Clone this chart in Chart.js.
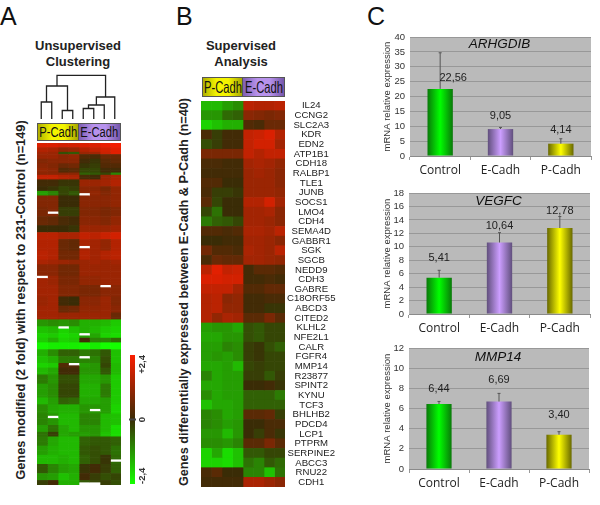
<!DOCTYPE html>
<html>
<head>
<meta charset="utf-8">
<script src="https://cdn.jsdelivr.net/npm/chart.js@4/dist/chart.umd.min.js"></script>
<style>
    html, body { margin: 0; padding: 0; background: #fff; }
    body { position: relative; width: 600px; height: 505px; overflow: hidden; font-family: "Liberation Sans", Arial, sans-serif; color: #111; }
    canvas { position: absolute; }
    #heatA { filter: blur(0.4px); }
    .letter { position: absolute; font-size: 25px; line-height: 25px; }
    .title { position: absolute; font-weight: bold; font-size: 13px; line-height: 16px; text-align: center; transform: translateX(-50%); white-space: nowrap; color: #222; }
    .side { position: absolute; font-weight: bold; white-space: nowrap; color: #222; transform: translate(-50%, -50%) rotate(-90deg); }
    .tag { position: absolute; box-sizing: border-box; border: 1px solid #555; display: flex; justify-content: center; align-items: center; white-space: nowrap; color: #111; overflow: hidden; }
    .tag span { display: inline-block; flex: none; }
    .tag.small span { font-size: 15.5px; transform: scaleX(0.72); }
    .tag.big span { font-size: 16.5px; transform: scaleX(0.68); }
    .tag.p { background: linear-gradient(90deg, #b0b000, #f4f400 35%, #f4f400 65%, #a8a800); }
    .tag.e { background: linear-gradient(90deg, #7e5fb4, #b792ec 35%, #b792ec 65%, #7556aa); }
</style>
</head>
<body>
<div class="letter" style="left:0;top:4px">A</div>
<div class="letter" style="left:176px;top:4px">B</div>
<div class="letter" style="left:367px;top:4px">C</div>

<div class="title" style="left:78px;top:38px">Unsupervised<br>Clustering</div>
<div class="title" style="left:241px;top:38px">Supervised<br>Analysis</div>

<div class="side" id="sideA" style="left:20px;top:300px;font-size:12.8px">Genes modified (2 fold) with respect to 231-Control (n=149)</div>
<div class="side" id="sideB" style="left:184px;top:292px;font-size:12.7px">Genes differentially expressed between E-Cadh &amp; P-Cadh (n=40)</div>

<div class="tag p small" style="left:37px;top:123px;width:42px;height:18px"><span>P-Cadh</span></div>
<div class="tag e small" style="left:78px;top:123px;width:43px;height:18px"><span>E-Cadh</span></div>
<div class="tag p big" style="left:202px;top:77px;width:41px;height:20px"><span>P-Cadh</span></div>
<div class="tag e big" style="left:242px;top:77px;width:43px;height:20px"><span>E-Cadh</span></div>

<canvas id="dendro" style="left:36px;top:69px" width="84" height="50"></canvas>
<canvas id="heatA" style="left:37px;top:143px" width="84" height="342"></canvas>
<canvas id="scaleBar" style="left:125px;top:350px" width="30" height="140"></canvas>
<canvas id="heatB" style="left:201px;top:101px" width="140" height="386"></canvas>
<canvas id="qpcr1" style="left:360px;top:31px" width="240" height="155"></canvas>
<canvas id="qpcr2" style="left:360px;top:188px" width="240" height="156"></canvas>
<canvas id="qpcr3" style="left:360px;top:342px" width="240" height="157"></canvas>

<script>
// --- PANEL C DATA ---
const groups = ['Control', 'E-Cadh', 'P-Cadh'];
const arhgdibValues = [22.56, 9.05, 4.14];
const arhgdibErrorTops = [34.7, 9.6, 5.8];
const arhgdibTicks = [0, 5, 10, 15, 20, 25, 30, 35, 40];
const vegfcValues = [5.41, 10.64, 12.78];
const vegfcErrorTops = [6.5, 12.1, 14.5];
const vegfcTicks = [0, 2, 4, 6, 8, 10, 12, 14, 16, 18];
const mmp14Values = [6.44, 6.69, 3.40];
const mmp14ErrorTops = [6.7, 7.5, 3.7];
const mmp14Ticks = [0, 2, 4, 6, 8, 10, 12];

// --- DENDROGRAM DATA (leaves are 0-7, each merge makes node 8, 9, ...) ---
const mergeLeft = [0, 2, 8, 4, 11, 12, 10];
const mergeRight = [1, 3, 9, 5, 6, 7, 13];
const mergeHeight = [17, 8.5, 33, 10.5, 14, 22, 43.7];

// --- PANEL A DATA: bands of similar rows, 149 rows in total ---
const heatABandSizes = [2, 2, 1, 2, 2, 2, 2, 1, 2, 3, 2, 2, 5, 4, 4, 3, 3, 5, 4, 2, 5, 4, 5, 4, 3, 3, 3, 3, 2, 2, 3, 3, 3, 2, 3, 4, 6, 3, 4, 5, 3, 2, 4, 4, 4, 4, 3, 2];
const heatABands = [
    [2, 2, 1.9, 1.9, 2, 2, 2.2, 2.3],
    [1.5, 1.4, 1.1, 1.2, 1.5, 1.7, 1.9, 2.1],
    [1.3, 1.2, -.4, -.5, 1.2, 1.3, 1.8, 2.1],
    [1.2, 1.2, 1, 1.1, .3, .2, .6, .6],
    [.9, 1, 1, 1, .1, -.1, .4, .5],
    [1, .9, .6, .7, -.1, -.2, .3, .3],
    [1.1, 1, .3, .4, -.3, -.3, .1, .1],
    [1, 1, 1, 1, -.6, -.5, -.3, -1],
    [1.7, 1.7, 1.5, 1.4, .2, .1, 1.2, 1.4],
    [.1, .1, -.1, -.1, 1.2, 1.2, 1.3, 1.5],
    [0, -.1, -.3, -.2, 1, 1, .8, 1.1],
    [-1.3, -1, -.3, -.5, 1, 1.1, .9, 1.1],
    [.9, .9, 0, 0, 1, 1, 1, 1.1],
    [.8, .9, -.2, -.2, .9, .9, .8, .9],
    [.6, .5, .2, .1, 1, 1, .9, 1.1],
    [0, 0, 0, -.1, 1.2, 1.2, 1.2, 1.3],
    [1.6, 1.6, 1.4, 1.4, 1.7, 1.6, 1.8, 1.9],
    [1.5, 1.5, .6, .5, 1.4, 1.3, 1.1, 1.5],
    [1.6, 1.5, .7, .7, 1.5, 1.3, 1.5, 1.6],
    [1.4, 1.3, 1.2, 1.1, 1.2, 1.3, 1.2, 1.3],
    [1, 1, .7, .7, 1.2, 1.2, 1.2, 1.2],
    [1.3, 1.2, .8, .8, 1.1, 1.1, 1.2, 1.2],
    [1.3, 1.3, .9, .9, .8, .8, 1, 1],
    [1.2, 1.3, .1, 0, 1, 1, 1.2, .9],
    [1.3, 1.3, .6, .7, 1.1, 1.1, 1.2, 1],
    [1.3, 1.3, 1.2, 1.2, 1.2, 1.2, 1.2, .6],
    [-1.2, -1.1, -1.2, -1.1, -1.5, -1.5, -1.6, -1.8],
    [-1.7, -1.6, -1.9, -1.7, -1.5, -1.6, -1.8, -1.9],
    [-1.9, -1.8, -2, -1.9, -1.3, -1.4, -1.9, -2],
    [-1.8, -1.5, -1.9, -1.8, .1, -1, -1, -.7],
    [-2.3, -2.2, -2.2, -2.2, -2.3, -2.2, -2.4, -2.4],
    [-1.5, -1.1, -.6, -.6, -.9, -.8, -.5, -1.7],
    [-1.7, -1.5, -.9, -.9, -1, -1, -.4, -1.7],
    [-1.9, -1.8, .3, .3, -1.3, -1.2, -.3, -1.6],
    [-1.6, -1.4, .1, .1, -1.2, -1.2, -.5, -1.6],
    [-.9, -1.2, -.4, -.4, -1.4, -1.4, -1.2, -1.8],
    [-1.3, -1.1, -.3, -.3, -1.5, -1.5, -.9, -1.8],
    [-1.6, -1.3, -.6, -.7, -1.4, -1.4, -1.3, -1.8],
    [-1.1, -1.4, -1.5, -1.5, -1.2, -1.2, -1.3, -1.9],
    [-1, -1.2, -1.6, -1.6, -1, -1, -1.6, -1.7],
    [-1.3, -.8, -1.4, -1.6, -1.2, -1.2, -1.6, -2],
    [-.8, -.2, -1.4, -1.3, -1.3, -1.2, -1.7, -2],
    [-.9, -1.4, -1.6, -1.6, -.6, -.5, -.5, -.6],
    [-1.3, -1.5, -1.6, -1.6, -.5, -.4, -.5, -.8],
    [-1.6, -1.6, -1.5, -1.6, -.6, -.4, -.1, -.7],
    [-.5, -1, -1.3, -1.4, -.1, .1, -.2, -.6],
    [-1.2, -1.3, -1.7, -1.5, .1, -.2, -.4, -.3],
    [-.2, .1, -1.5, -1.5, -.5, -.3, -.2, -.4]
];
// cells with no measurement, shown white: [row, column]
const heatAMissing = [[22, 4], [30, 1], [45, 4], [58, 0], [62, 6], [80, 2], [83, 4], [93, 4], [96, 3], [116, 5], [119, 1], [138, 7], [148, 4], [148, 5]];

// --- PANEL B DATA ---
const genes = ['IL24', 'CCNG2', 'SLC2A3', 'KDR', 'EDN2', 'ATP1B1', 'CDH18', 'RALBP1', 'TLE1', 'JUNB', 'SOCS1', 'LMO4', 'CDH4', 'SEMA4D', 'GABBR1', 'SGK', 'SGCB', 'NEDD9', 'CDH3', 'GABRE', 'C18ORF55', 'ABCD3', 'CITED2', 'KLHL2', 'NFE2L1', 'CALR', 'FGFR4', 'MMP14', 'R23877', 'SPINT2', 'KYNU', 'TCF3', 'BHLHB2', 'PDCD4', 'LCP1', 'PTPRM', 'SERPINE2', 'ABCC3', 'RNU22', 'CDH1'];
const heatBRows = [
    [-1.6, -1.6, -1.3, -1.1, 1.6, 1.5, 1.5, 1.6],
    [-1.2, -1.2, -.7, -.6, 1, .9, .8, .9],
    [-1.9, -1.7, -1.5, -1.5, .3, .2, .6, .6],
    [.2, -.2, .1, .1, 1.7, 1.8, 2, 1.5],
    [-.4, -.2, .1, .1, 1.7, 1.9, 1.9, 1.3],
    [.8, .8, .8, .8, 1.7, 1.5, 1.7, 1.7],
    [.2, .2, .1, .1, 1.3, 1.4, 1.3, 1.1],
    [.1, .1, .1, .1, 1.2, 1.3, 1.2, 1],
    [.3, .3, 0, 0, 1.2, 1.2, 1.2, 1],
    [.2, -.2, -.2, -.1, 1.2, 1.2, 1.2, 1.1],
    [.4, -.3, 0, 0, 1.5, 1.5, 1.9, 1.3],
    [-.3, -.8, 0, 0, 1.3, 1.3, 1.4, 1],
    [-.9, -.6, -.5, -.3, 1.3, 1.3, 1.2, 1],
    [.3, .3, .2, .3, 1.4, 1.4, 1.3, 1.6],
    [0, 0, .1, .1, 1.3, 1.3, 1.2, 1],
    [.7, .3, .3, .2, 1.4, 1.3, 1.2, 1.6],
    [.2, .6, .5, .5, 1.3, 1.3, 1.2, 1.1],
    [1.6, 2.1, 1.7, 1.8, .1, .4, .4, .3],
    [2, 2, 1.9, 1.9, .1, .1, .2, .1],
    [1.7, 1.7, 1.7, 1.3, .3, .3, .5, .5],
    [1.5, 1.6, 1, 1.1, .1, .1, .2, .2],
    [1.5, 1.6, 1.1, 1.1, .1, .1, -.1, -.1],
    [1.5, 1.1, 1.4, 1.3, .4, .4, .8, .4],
    [-1.3, -1.2, -1.2, -1.4, -.4, -.5, -.3, -.3],
    [-1.4, -1.4, -1.2, -1.2, -.4, -.5, -.3, -.3],
    [-1.3, -1.3, -1, -1.1, -.2, -.1, -.4, -.6],
    [-1.3, -1.2, -1.3, -1.1, -.2, -.1, -.3, -.3],
    [-1.4, -1.4, -1.3, -1.6, -.3, -.2, -.3, -.3],
    [-1, -1.4, -1.3, -1.3, -.2, -.2, -.5, -.2],
    [-1.4, -1.4, -1.3, -1.3, 0, 0, .1, -.1],
    [-1.1, -1.4, -1.3, -1.3, -.6, -.6, -.6, -.9],
    [-1.7, -1.4, -1.4, -1.3, -.6, -.6, -.6, -.6],
    [-1, -1.1, -1.4, -1.3, .4, .4, .5, -.2],
    [-1, -1.1, -1.3, -1.2, 0, 0, .2, .2],
    [-1.2, -1.2, -1.6, -1.2, 0, -.2, .2, -.1],
    [-1.1, -1.1, -1.2, -1, .4, .4, .8, .4],
    [-1.9, -1.4, -2, -1.7, -.5, -.5, -.3, -.3],
    [-1.9, -1.9, -2, -1.7, -.8, -1, -.5, -.7],
    [.2, .4, 0, 0, -1, -1, -1.7, -.8],
    [.1, .1, .1, .1, 1.4, 1.4, 1.2, 1]
];

// --- COLOUR SCALE DATA ---
const scaleTicks = [-2.4, 0, 2.4];
const scaleTickLabels = ['-2,4', '0', '+2,4'];

const baseOptions = {
    responsive: false,
    animation: false,
    events: [],
    plugins: { legend: { display: false }, tooltip: { enabled: false } }
};

// green - dark - red, the way the picture shows it
function cellColor(v) {
    if (v === null) return '#fff';
    const t = Math.min(Math.abs(v) / 2.4, 1);
    const end = v >= 0 ? [250, 30, 0] : [20, 255, 0];
    const mid = [58, 44, 6];
    const c = mid.map((m, i) => Math.round(m + (end[i] - m) * t));
    return `rgb(${c[0]},${c[1]},${c[2]})`;
}

// heatmap = stacked horizontal bars, one dataset per column
function heatmapDatasets(rows) {
    return rows[0].map((_, col) => ({
        data: rows.map(() => 1),
        backgroundColor: rows.map(r => cellColor(r[col])),
        barPercentage: 1,
        categoryPercentage: 1,
        borderWidth: 0
    }));
}

// the plot has to fill the canvas exactly, no room kept for half a tick label
function noEdgePadding(scale) {
    scale.paddingTop = 0;
    scale.paddingBottom = 0;
    scale.paddingLeft = 0;
    scale.paddingRight = 0;
}

// --- DENDROGRAM ---
const nodeX = [0, 1, 2, 3, 4, 5, 6, 7].map(i => i + 0.5);
const nodeY = nodeX.map(() => 0);
const dendroSets = mergeLeft.map((left, i) => {
    const right = mergeRight[i];
    const h = mergeHeight[i];
    const set = {
        data: [{ x: nodeX[left], y: nodeY[left] }, { x: nodeX[left], y: h }, { x: nodeX[right], y: h }, { x: nodeX[right], y: nodeY[right] }],
        showLine: true,
        pointRadius: 0,
        borderColor: '#222',
        borderWidth: 1.3
    };
    nodeX.push((nodeX[left] + nodeX[right]) / 2);
    nodeY.push(h);
    return set;
});
new Chart(document.getElementById('dendro'), {
    type: 'scatter',
    data: { datasets: dendroSets },
    options: {
        ...baseOptions,
        scales: {
            x: { display: false, min: 0, max: 8 },
            y: { display: false, min: 0, max: 50 }
        }
    }
});

// --- PANEL A HEATMAP ---
const heatARows = [];
heatABandSizes.forEach((size, i) => {
    for (let n = 0; n < size; n++) heatARows.push(heatABands[i].slice());
});
heatAMissing.forEach(([row, col]) => { heatARows[row][col] = null; });

new Chart(document.getElementById('heatA'), {
    type: 'bar',
    data: { labels: heatARows.map((_, i) => i + 1), datasets: heatmapDatasets(heatARows) },
    options: {
        ...baseOptions,
        indexAxis: 'y',
        scales: {
            x: { display: false, stacked: true, min: 0, max: 8 },
            y: { display: false, stacked: true }
        }
    }
});

// --- PANEL B HEATMAP ---
new Chart(document.getElementById('heatB'), {
    type: 'bar',
    data: { labels: genes, datasets: heatmapDatasets(heatBRows) },
    options: {
        ...baseOptions,
        indexAxis: 'y',
        scales: {
            x: { display: false, stacked: true, min: 0, max: 8 },
            y: {
                stacked: true,
                position: 'right',
                afterFit: scale => { scale.width = 56; noEdgePadding(scale); },
                border: { display: false },
                grid: { display: false, drawTicks: false },
                ticks: {
                    autoSkip: false,
                    crossAlign: 'center',
                    padding: 2,
                    color: '#222',
                    font: { family: 'Liberation Sans', size: 9.6 }
                }
            }
        }
    }
});

// --- COLOUR SCALE ---
const scaleBarText = {
    id: 'scaleBarText',
    afterDraw(chart) {
        const { ctx, chartArea, scales } = chart;
        ctx.save();
        ctx.fillStyle = '#333';
        ctx.font = 'bold 9.5px "Liberation Sans"';
        ctx.textBaseline = 'middle';
        scaleTicks.forEach((tick, i) => {
            const y = scales.y.getPixelForValue(tick);
            ctx.save();
            ctx.translate(chartArea.right + 7, y);
            ctx.rotate(-Math.PI / 2);
            ctx.textAlign = tick < 0 ? 'left' : tick > 0 ? 'right' : 'center';
            ctx.fillText(scaleTickLabels[i], 0, 0);
            ctx.restore();
        });
        // dark marker at zero
        const zero = scales.y.getPixelForValue(0);
        ctx.fillStyle = '#444';
        ctx.fillRect(chartArea.left - 1, zero - 1, chartArea.right - chartArea.left + 2, 2);
        ctx.restore();
    }
};
new Chart(document.getElementById('scaleBar'), {
    type: 'bar',
    data: {
        labels: ['scale'],
        datasets: [{
            data: [[scaleTicks[0], scaleTicks[2]]],
            barPercentage: 1,
            categoryPercentage: 1,
            borderWidth: 0,
            backgroundColor: ctx => {
                const area = ctx.chart.chartArea;
                if (!area) return '#333';
                const g = ctx.chart.ctx.createLinearGradient(0, area.top, 0, area.bottom);
                g.addColorStop(0, cellColor(scaleTicks[2]));
                g.addColorStop(0.5, cellColor(scaleTicks[1]));
                g.addColorStop(1, cellColor(scaleTicks[0]));
                return g;
            }
        }]
    },
    options: {
        ...baseOptions,
        layout: { padding: { left: 5, right: 20, top: 5, bottom: 6 } },
        scales: {
            x: { display: false },
            y: { display: false, min: scaleTicks[0], max: scaleTicks[2] }
        }
    },
    plugins: [scaleBarText]
});

// --- PANEL C BAR CHARTS ---
const barShades = [
    ['#0a7a0a', '#00ff00'],
    ['#62507e', '#cc9eff'],
    ['#6a6a00', '#ffff00']
];

// plot background, error bars, value labels and the gene name inside the plot
const qpcrExtras = {
    id: 'qpcrExtras',
    beforeDraw(chart) {
        const { ctx, chartArea: a } = chart;
        ctx.save();
        ctx.fillStyle = '#bababa';
        ctx.fillRect(a.left, a.top, a.right - a.left, a.bottom - a.top);
        ctx.restore();
    },
    afterDatasetsDraw(chart, args, opts) {
        const { ctx, chartArea: a, scales } = chart;
        const values = chart.data.datasets[0].data;
        ctx.save();
        values.forEach((v, i) => {
            const x = scales.x.getPixelForValue(i);
            const top = scales.y.getPixelForValue(v);
            const errTop = scales.y.getPixelForValue(opts.errorTops[i]);
            ctx.strokeStyle = '#555';
            ctx.lineWidth = 1;
            ctx.beginPath();
            ctx.moveTo(x, top);
            ctx.lineTo(x, errTop);
            ctx.moveTo(x - 1.5, errTop);
            ctx.lineTo(x + 1.5, errTop);
            ctx.stroke();
            ctx.fillStyle = '#222';
            ctx.font = '11px "Liberation Sans"';
            ctx.textAlign = 'center';
            ctx.textBaseline = 'middle';
            ctx.fillText(v.toFixed(2).replace('.', ','), x + opts.labelShift[i], top - opts.labelLift[i]);
        });
        ctx.fillStyle = '#111';
        ctx.font = 'italic 13.5px "Liberation Sans"';
        ctx.textAlign = 'center';
        ctx.textBaseline = 'middle';
        ctx.fillText(opts.gene, (a.left + a.right) / 2 - 1, a.top + opts.geneDrop);
        ctx.restore();
    }
};

function qpcrChart(id, gene, values, errorTops, ticks, box) {
    return new Chart(document.getElementById(id), {
        type: 'bar',
        data: {
            labels: groups,
            datasets: [{
                data: values,
                barPercentage: 0.42,
                categoryPercentage: 1,
                borderWidth: 0,
                backgroundColor: ctx => {
                    const { chart, dataIndex } = ctx;
                    if (!chart.chartArea) return barShades[dataIndex][1];
                    const x = chart.scales.x.getPixelForValue(dataIndex);
                    const g = chart.ctx.createLinearGradient(x - 12.5, 0, x + 12.5, 0);
                    g.addColorStop(0, barShades[dataIndex][0]);
                    g.addColorStop(0.5, barShades[dataIndex][1]);
                    g.addColorStop(1, barShades[dataIndex][0]);
                    return g;
                }
            }]
        },
        options: {
            ...baseOptions,
            layout: { padding: { left: 0, top: box.top, right: box.right, bottom: 0 } },
            plugins: {
                ...baseOptions.plugins,
                qpcrExtras: { gene, errorTops, labelLift: box.lift, labelShift: box.shift, geneDrop: box.geneDrop }
            },
            scales: {
                x: {
                    afterFit: scale => { scale.height = box.axisHeight; noEdgePadding(scale); },
                    border: { color: '#8a8a8a' },
                    grid: { drawOnChartArea: false, offset: true, tickLength: 4, color: '#999' },
                    ticks: {
                        color: '#222',
                        padding: 3,
                        maxRotation: 0,
                        font: { family: 'Open Sans', size: 12 }
                    }
                },
                y: {
                    min: ticks[0],
                    max: ticks[ticks.length - 1],
                    afterBuildTicks: scale => { scale.ticks = ticks.map(value => ({ value })); },
                    afterFit: scale => { scale.width = box.axisWidth; noEdgePadding(scale); },
                    border: { display: false },
                    grid: { color: '#989898', drawTicks: false },
                    title: {
                        display: true,
                        text: 'mRNA relative expression',
                        color: '#333',
                        padding: { top: 22, bottom: 0 },
                        font: { family: 'Liberation Sans', size: 9.5 }
                    },
                    ticks: {
                        autoSkip: false,
                        color: '#333',
                        padding: 5,
                        font: { family: 'Liberation Sans', size: 9.5 }
                    }
                }
            }
        },
        plugins: [qpcrExtras]
    });
}

qpcrChart('qpcr1', 'ARHGDIB', arhgdibValues, arhgdibErrorTops, arhgdibTicks, {
    top: 6, right: 9, axisWidth: 50, axisHeight: 30, geneDrop: 7.5,
    lift: [11, 13, 14], shift: [13, 0, 0]
});
qpcrChart('qpcr2', 'VEGFC', vegfcValues, vegfcErrorTops, vegfcTicks, {
    top: 5, right: 10, axisWidth: 49, axisHeight: 30, geneDrop: 8,
    lift: [20, 17, 17], shift: [0, 0, 0]
});
qpcrChart('qpcr3', 'MMP14', mmp14Values, mmp14ErrorTops, mmp14Ticks, {
    top: 6, right: 11, axisWidth: 49, axisHeight: 30, geneDrop: 9,
    lift: [15, 22, 20], shift: [0, 0, 0]
});
</script>
</body>
</html>
